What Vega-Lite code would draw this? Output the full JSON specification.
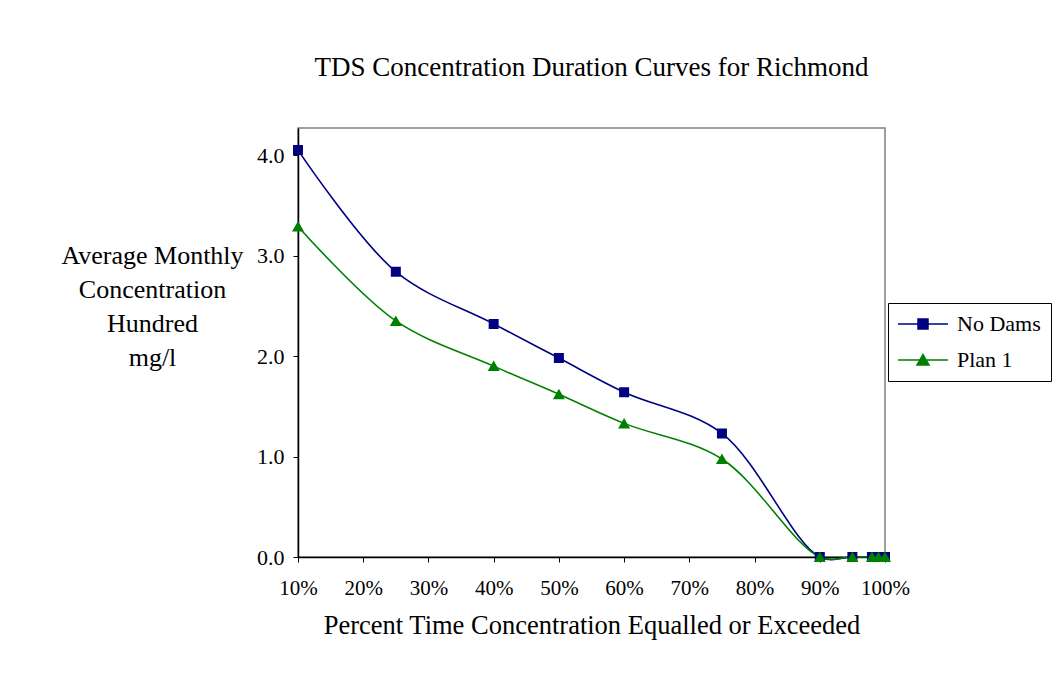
{
  "$schema": "https://vega.github.io/schema/vega-lite/v6.json",
  "width": 587,
  "height": 429,
  "autosize": "none",
  "padding": {"left": 298, "top": 128, "right": 178, "bottom": 120},
  "background": "white",
  "title": {
    "text": "TDS Concentration Duration Curves for Richmond",
    "font": "Liberation Serif",
    "fontSize": 27,
    "fontWeight": "normal",
    "color": "black",
    "anchor": "middle",
    "offset": 46
  },
  "config": {
    "view": {"stroke": "#808080", "strokeWidth": 1.5},
    "axis": {
      "labelFont": "Liberation Serif",
      "titleFont": "Liberation Serif",
      "labelColor": "black",
      "titleColor": "black",
      "domainColor": "black",
      "tickColor": "black",
      "domainWidth": 1.5,
      "grid": false,
      "titleFontWeight": "normal"
    },
    "legend": {
      "labelFont": "Liberation Serif"
    }
  },
  "data": {
    "values": [
      {"pct": 10, "series": "No Dams", "value": 4.05},
      {"pct": 25, "series": "No Dams", "value": 2.84},
      {"pct": 40, "series": "No Dams", "value": 2.32},
      {"pct": 50, "series": "No Dams", "value": 1.98},
      {"pct": 60, "series": "No Dams", "value": 1.64},
      {"pct": 75, "series": "No Dams", "value": 1.23},
      {"pct": 90, "series": "No Dams", "value": 0},
      {"pct": 95, "series": "No Dams", "value": 0},
      {"pct": 98, "series": "No Dams", "value": 0},
      {"pct": 99, "series": "No Dams", "value": 0},
      {"pct": 100, "series": "No Dams", "value": 0},
      {"pct": 10, "series": "Plan 1", "value": 3.29},
      {"pct": 25, "series": "Plan 1", "value": 2.35},
      {"pct": 40, "series": "Plan 1", "value": 1.9},
      {"pct": 50, "series": "Plan 1", "value": 1.62},
      {"pct": 60, "series": "Plan 1", "value": 1.33},
      {"pct": 75, "series": "Plan 1", "value": 0.975},
      {"pct": 90, "series": "Plan 1", "value": 0},
      {"pct": 95, "series": "Plan 1", "value": 0},
      {"pct": 98, "series": "Plan 1", "value": 0},
      {"pct": 99, "series": "Plan 1", "value": 0},
      {"pct": 100, "series": "Plan 1", "value": 0}
    ]
  },
  "encoding": {
    "x": {
      "field": "pct",
      "type": "quantitative",
      "scale": {"domain": [10, 100], "nice": false, "zero": false},
      "axis": {
        "values": [10, 20, 30, 40, 50, 60, 70, 80, 90, 100],
        "labelExpr": "datum.value + '%'",
        "labelFontSize": 21,
        "labelPadding": 15,
        "tickSize": 5,
        "title": "Percent Time Concentration Equalled or Exceeded",
        "titleFontSize": 26.5,
        "titlePadding": 14,
        "labelFlush": false
      }
    },
    "y": {
      "field": "value",
      "type": "quantitative",
      "scale": {"domain": [0, 4.27], "nice": false},
      "axis": {
        "values": [0, 1, 2, 3, 4],
        "format": ".1f",
        "labelFontSize": 22,
        "labelPadding": 9,
        "tickSize": 5,
        "title": ["Average Monthly", "Concentration", "Hundred", "mg/l"],
        "titleFontSize": 26,
        "titleAngle": 0,
        "titleAlign": "center",
        "titleBaseline": "top",
        "titleX": -146,
        "titleY": 114,
        "titleLineHeight": 34
      }
    }
  },
  "layer": [
    {
      "mark": {"type": "line", "interpolate": "catmull-rom", "strokeWidth": 1.6},
      "encoding": {
        "color": {
          "field": "series",
          "type": "nominal",
          "scale": {"domain": ["No Dams", "Plan 1"], "range": ["#000080", "#008000"]}
        }
      }
    },
    {
      "mark": {"type": "point", "filled": true, "size": 100, "opacity": 1, "strokeWidth": 0},
      "encoding": {
        "color": {
          "field": "series",
          "type": "nominal",
          "scale": {"domain": ["No Dams", "Plan 1"], "range": ["#000080", "#008000"]},
          "legend": {
            "title": null,
            "orient": "none",
            "legendX": 590,
            "legendY": 175,
            "strokeColor": "black",
            "fillColor": "white",
            "padding": 10,
            "rowPadding": 14,
            "labelFontSize": 22,
            "labelColor": "black",
            "symbolOffset": 14,
            "labelOffset": 23,
            "encode": {
              "symbols": {
                "update": {
                  "stroke": {"scale": "color", "field": "value"},
                  "strokeWidth": {"value": 1.5}
                }
              }
            }
          }
        },
        "shape": {
          "field": "series",
          "type": "nominal",
          "scale": {
            "domain": ["No Dams", "Plan 1"],
            "range": ["M-5,0H5M-1,-1H1V1H-1Z", "M-5,0H5M0,-1.1L1.2,1H-1.2Z"]
          }
        }
      }
    }
  ]
}
